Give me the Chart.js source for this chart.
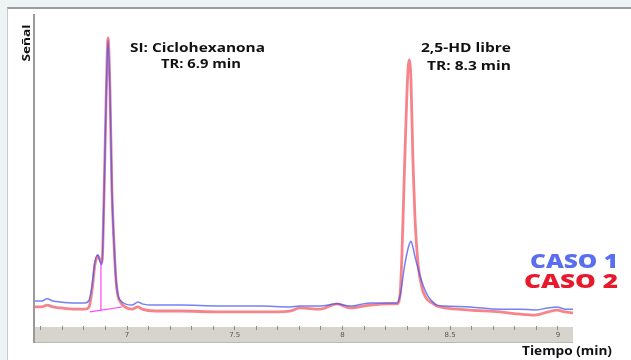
<!DOCTYPE html>
<html>
<head>
<meta charset="utf-8">
<script src="https://cdn.jsdelivr.net/npm/chart.js@4/dist/chart.umd.min.js"></script>
<style>
    html, body { margin: 0; padding: 0; }
    body { width: 631px; height: 360px; background: #eef3f4; position: relative; overflow: hidden; }
    #panel {
        position: absolute; left: 7px; top: 7px; right: -10px; bottom: -10px;
        background: #fff; border-top: 2px solid #9c9c9c; border-left: 1px solid #c9c9c9;
    }
    #wrap { position: absolute; left: 0; top: 0; width: 631px; height: 360px; }
</style>
</head>
<body>
<div id="panel"></div>
<div id="wrap"><canvas id="chart" width="631" height="360"></canvas></div>
<script>
// retention time (min)
const timeMin = [6.573, 6.605, 6.629, 6.657, 6.689, 6.759, 6.805, 6.824, 6.838, 6.851,
    6.865, 6.875, 6.884, 6.893, 6.903, 6.912, 6.921, 6.930, 6.940, 6.949,
    6.958, 6.972, 6.991, 7.023, 7.051, 7.070, 7.130, 7.246, 7.432, 7.617,
    7.756, 7.803, 7.896, 7.974, 8.035, 8.128, 8.220, 8.253, 8.267, 8.276,
    8.285, 8.295, 8.304, 8.309, 8.318, 8.327, 8.336, 8.350, 8.369, 8.383,
    8.397, 8.415, 8.438, 8.476, 8.592, 8.731, 8.824, 8.893, 8.954, 8.995,
    9.032, 9.070];

// signal, caso 1 (blue)
const caso1 = [8.0, 8.0, 8.7, 8.0, 7.7, 7.4, 7.4, 8.3, 13.1, 20.5,
    22.8, 20.5, 19.6, 40.4, 72.4, 91.7, 75.6, 43.6, 26.0, 14.7,
    9.9, 8.0, 7.1, 6.7, 7.7, 7.1, 6.7, 6.7, 6.4, 6.4,
    6.1, 6.4, 6.4, 7.1, 6.4, 7.4, 7.4, 7.4, 9.6, 13.1,
    17.9, 21.8, 24.7, 26.0, 27.2, 25.3, 22.4, 18.6, 14.1, 11.5,
    9.6, 8.0, 6.7, 6.4, 6.1, 5.4, 5.4, 5.1, 5.8, 6.1,
    5.4, 5.4];

// signal, caso 2 (red)
const caso2 = [6.1, 6.1, 6.7, 6.1, 5.8, 5.4, 5.4, 6.1, 11.5, 19.6,
    22.4, 21.2, 20.5, 40.4, 72.4, 92.3, 75.6, 43.6, 26.0, 14.7,
    9.6, 7.4, 6.1, 5.4, 6.1, 5.4, 4.8, 4.8, 4.5, 4.5,
    4.8, 5.8, 5.4, 7.1, 5.8, 6.7, 7.1, 7.1, 9.9, 22.8,
    43.6, 66.0, 82.1, 85.3, 78.8, 53.2, 35.6, 20.5, 12.2, 9.6,
    8.3, 7.4, 6.4, 5.8, 5.1, 4.5, 3.8, 3.5, 4.5, 5.1,
    4.5, 4.2];

// integration marks of the first peak (null = pen up)
const integTime = [6.828, 6.977, null, 6.879, 6.879];
const integSignal = [4.5, 6.1, null, 20.5, 5.05];

const tickLabels = ['7', '7.5', '8', '8.5', '9'];

const toPoints = (xs, ys) => xs.map((x, i) => (x === null ? { x: NaN, y: null } : { x: x, y: ys[i] }));

// text drawn at a given font height, stretched to the width it has in the picture
function fitText(ctx, text, x, y, width, size, color, align, weight) {
    ctx.save();
    ctx.font = (weight || 'bold') + ' ' + size + 'px "Open Sans"';
    ctx.fillStyle = color;
    ctx.textBaseline = 'middle';
    ctx.textAlign = 'left';
    const w = ctx.measureText(text).width;
    const left = align === 'right' ? x - width : x - width / 2;
    ctx.translate(left, y);
    ctx.scale(width / w, 1);
    ctx.fillText(text, 0, 0);
    ctx.restore();
}

const frame = {
    id: 'frame',
    beforeDraw(chart) {
        const ctx = chart.ctx;
        const a = chart.chartArea;
        ctx.save();
        // grey time band
        ctx.fillStyle = '#d7d4cd';
        ctx.fillRect(a.left, a.bottom + 1, a.right - a.left, 16);
        ctx.fillStyle = '#bdb9b1';
        ctx.fillRect(a.left, a.bottom + 16, a.right - a.left, 1);
        // left axis line
        ctx.fillStyle = '#9a9a9a';
        ctx.fillRect(a.left - 2, a.top, 2, a.bottom + 17 - a.top);
        ctx.restore();
    },
    afterDraw(chart) {
        const ctx = chart.ctx;
        fitText(ctx, 'SI: Ciclohexanona', 197.5, 48, 135, 13, '#111');
        fitText(ctx, 'TR: 6.9 min', 201, 64, 80, 13, '#111');
        fitText(ctx, '2,5-HD libre', 466, 48, 90, 13, '#111');
        fitText(ctx, 'TR: 8.3 min', 469, 66, 84, 13, '#111');
        fitText(ctx, 'Tiempo (min)', 567, 351, 90, 13, '#111');
        fitText(ctx, 'CASO 1', 618, 263, 88, 18.5, '#5a6ff0', 'right', '800');
        fitText(ctx, 'CASO 2', 618, 283, 94, 18.5, '#e8192c', 'right', '800');
        ctx.save();
        ctx.translate(27, 43);
        ctx.rotate(-Math.PI / 2);
        fitText(ctx, 'Señal', 0, 0, 37, 11, '#111');
        ctx.restore();
    }
};

new Chart(document.getElementById('chart').getContext('2d'), {
    type: 'line',
    data: {
        datasets: [{
            label: 'CASO 1',
            data: toPoints(timeMin, caso1),
            borderColor: 'rgba(70, 85, 240, 0.75)',
            borderWidth: 1.5,
            pointRadius: 0,
            cubicInterpolationMode: 'monotone'
        }, {
            label: 'CASO 2',
            data: toPoints(timeMin, caso2),
            borderColor: 'rgba(242, 80, 90, 0.7)',
            borderWidth: 2.8,
            pointRadius: 0,
            cubicInterpolationMode: 'monotone'
        }, {
            label: 'integración',
            data: toPoints(integTime, integSignal),
            borderColor: '#ff44ff',
            borderWidth: 1.2,
            pointRadius: 0,
            spanGaps: false
        }]
    },
    options: {
        responsive: false,
        animation: false,
        events: [],
        layout: { padding: { left: 35, right: 58, top: 14, bottom: 0 } },
        plugins: { legend: { display: false }, tooltip: { enabled: false } },
        scales: {
            x: {
                type: 'linear',
                min: 6.573,
                max: 9.07,
                afterFit: (s) => { s.height = 34; },
                afterBuildTicks: (s) => {
                    const t = [];
                    for (let i = 66; i <= 90; i++) t.push({ value: i / 10 });
                    s.ticks = t;
                },
                border: { display: false },
                grid: { drawOnChartArea: false, tickLength: 4, color: '#8f8c86', offset: false },
                ticks: {
                    autoSkip: false,
                    maxRotation: 0,
                    padding: 1,
                    color: '#555',
                    font: { size: 7, family: 'DejaVu Sans' },
                    callback: (v) => {
                        const k = Math.round(v * 10);
                        if (k % 5 !== 0) return '';
                        return tickLabels[(k - 70) / 5] || '';
                    }
                }
            },
            y: {
                display: false,
                min: 0,
                max: 100
            }
        }
    },
    plugins: [frame]
});
</script>
</body>
</html>
